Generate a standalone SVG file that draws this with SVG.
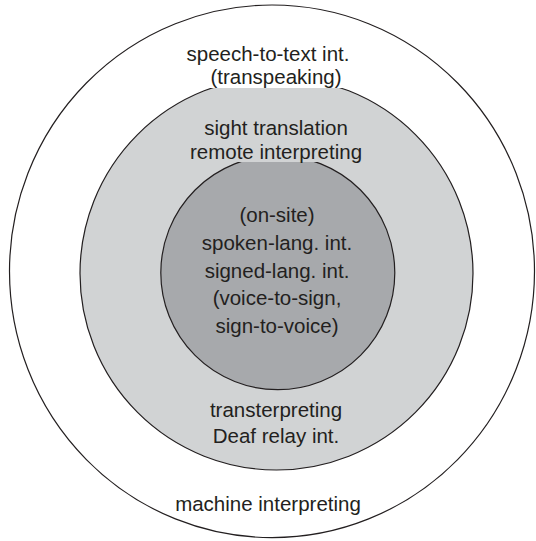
<svg xmlns="http://www.w3.org/2000/svg" width="536" height="541" viewBox="0 0 536 541">
<style>
.ring{stroke:#231f20;stroke-width:1.2}
.lbl{font-family:"Liberation Sans","Open Sans",Arial,sans-serif;font-size:20.5px;fill:#231f20;text-anchor:middle}
</style>
<rect width="536" height="541" fill="#ffffff"/>
<g id="outer">
<ellipse class="ring" cx="272" cy="271.3" rx="262.5" ry="266.3" fill="#ffffff"/>
<text class="lbl" x="268" y="61">speech-to-text int.</text>
<text class="lbl" x="268" y="511">machine interpreting</text>
</g>
<g id="middle">
<circle class="ring" cx="276.5" cy="273.5" r="196.5" fill="#d1d3d4"/>
<rect x="205" y="67" width="144" height="21" fill="#ffffff"/>
<text class="lbl" x="276" y="84">(transpeaking)</text>
<text class="lbl" x="276" y="135">sight translation</text>
<text class="lbl" x="276" y="417">transterpreting</text>
<text class="lbl" x="276" y="443">Deaf relay int.</text>
</g>
<g id="inner">
<circle class="ring" cx="277.8" cy="272.7" r="117" fill="#a7a9ac"/>
<rect x="222" y="145" width="98" height="17" fill="#d1d3d4"/>
<text class="lbl" x="276" y="159">remote interpreting</text>
<text class="lbl" x="277" y="222">(on-site)</text>
<text class="lbl" x="277" y="250">spoken-lang. int.</text>
<text class="lbl" x="277" y="278">signed-lang. int.</text>
<text class="lbl" x="277" y="305">(voice-to-sign,</text>
<text class="lbl" x="277" y="333">sign-to-voice)</text>
</g>
<g id="connectors"/>
</svg>
